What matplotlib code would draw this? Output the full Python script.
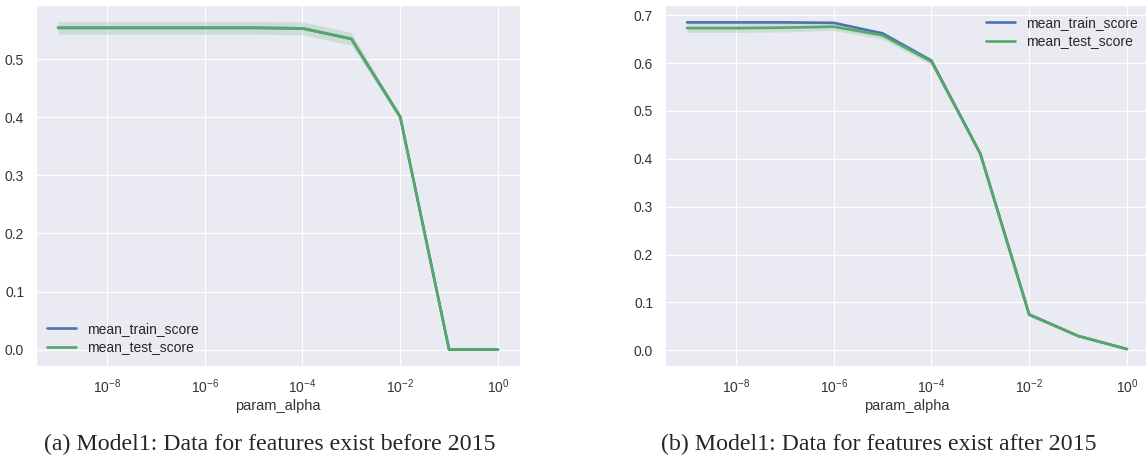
import numpy as np
import matplotlib
matplotlib.use("Agg")
import matplotlib.pyplot as plt
import seaborn as sns

# values
param_alpha = [1e-9, 1e-8, 1e-7, 1e-6, 1e-5, 1e-4, 1e-3, 1e-2, 1e-1, 1e0]

# (a) before 2015
train_a = [0.554, 0.554, 0.554, 0.554, 0.554, 0.553, 0.535, 0.401, 0.0, 0.0]
train_a_std = [0.002, 0.002, 0.002, 0.002, 0.002, 0.002, 0.002, 0.002, 0.0, 0.0]
test_a = [0.554, 0.554, 0.554, 0.554, 0.554, 0.553, 0.535, 0.400, 0.0, 0.0]
test_a_std = [0.011, 0.011, 0.011, 0.011, 0.011, 0.011, 0.011, 0.004, 0.0, 0.0]

# (b) after 2015
train_b = [0.685, 0.685, 0.685, 0.684, 0.662, 0.605, 0.411, 0.075, 0.030, 0.0025]
train_b_std = [0.002, 0.002, 0.002, 0.002, 0.002, 0.002, 0.002, 0.002, 0.001, 0.001]
test_b = [0.673, 0.673, 0.674, 0.676, 0.658, 0.603, 0.410, 0.074, 0.030, 0.0025]
test_b_std = [0.009, 0.009, 0.009, 0.008, 0.008, 0.007, 0.004, 0.003, 0.002, 0.001]

xticks = [1e-8, 1e-6, 1e-4, 1e-2, 1e0]
yticks_a = [0.0, 0.1, 0.2, 0.3, 0.4, 0.5]
yticks_b = [0.0, 0.1, 0.2, 0.3, 0.4, 0.5, 0.6, 0.7]
captions = ["(a) Model1: Data for features exist before 2015",
            "(b) Model1: Data for features exist after 2015"]

sns.set_style("darkgrid")
plt.rcParams['font.family'] = ['Liberation Sans', 'DejaVu Sans']
blue, green = "#4C72B0", "#55A868"

W, H = 1146, 461
fig = plt.figure(figsize=(W / 100, H / 100), dpi=100)
bottom, top = 366, 5
ax_a = fig.add_axes([36 / W, 1 - bottom / H, 484 / W, (bottom - top) / H])
ax_b = fig.add_axes([665 / W, 1 - bottom / H, 484 / W, (bottom - top) / H])

panels = [(ax_a, train_a, train_a_std, test_a, test_a_std, yticks_a, "lower left"),
          (ax_b, train_b, train_b_std, test_b, test_b_std, yticks_b, "upper right")]

for ax, tr, trs, te, tes, yt, loc in panels:
    tr, trs, te, tes = map(np.array, (tr, trs, te, tes))
    ax.fill_between(param_alpha, tr - trs, tr + trs, color=blue, alpha=0.2, lw=0)
    ax.fill_between(param_alpha, te - tes, te + tes, color=green, alpha=0.2, lw=0)
    ax.plot(param_alpha, tr, color=blue, lw=1.9, label="mean_train_score")
    ax.plot(param_alpha, te, color=green, lw=1.9, label="mean_test_score")
    ax.set_xscale("log")
    ax.set_xticks(xticks)
    ax.minorticks_off()
    ax.set_yticks(yt)
    ax.tick_params(labelsize=10, colors="#333333", pad=5)
    ax.set_xlabel("param_alpha", fontsize=10.5, color="#333333", labelpad=2)
    ax.legend(loc=loc, fontsize=10, frameon=False, handlelength=2.1,
              labelspacing=0.35, borderaxespad=0.4)

fig.text(270 / W, 1 - 450 / H, captions[0], ha="center", va="baseline",
         fontsize=17.2, family="Liberation Serif")
fig.text(879 / W, 1 - 450 / H, captions[1], ha="center", va="baseline",
         fontsize=17.2, family="Liberation Serif")

plt.savefig("out.png", dpi=100)
